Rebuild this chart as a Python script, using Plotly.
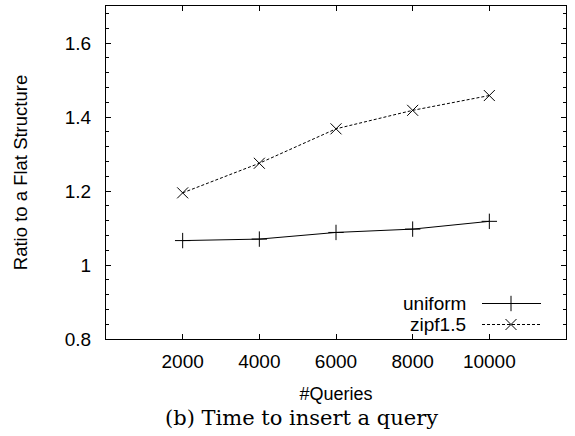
import plotly.graph_objects as go

# ---- data ----
queries = [2000, 4000, 6000, 8000, 10000]
uniform = [1.066, 1.070, 1.088, 1.097, 1.118]
zipf15 = [1.195, 1.275, 1.368, 1.418, 1.458]
series_names = ["uniform", "zipf1.5"]
x_ticks = [2000, 4000, 6000, 8000, 10000]
y_ticks = [0.8, 1.0, 1.2, 1.4, 1.6]
y_tick_text = ["0.8", "1", "1.2", "1.4", "1.6"]

FONT = "Liberation Sans, Arial, sans-serif"
W, H = 575, 436
L, R, T, B = 106, 9, 6, 97

fig = go.Figure()

fig.add_trace(go.Scatter(
    x=queries, y=uniform, mode="lines+markers", name=series_names[0],
    line=dict(color="black", width=1),
    marker=dict(symbol="cross-thin", size=11, line=dict(color="black", width=1)),
    showlegend=False))
fig.add_trace(go.Scatter(
    x=queries, y=zipf15, mode="lines+markers", name=series_names[1],
    line=dict(color="black", width=1, dash="3px,2px"),
    marker=dict(symbol="x-thin", size=11, line=dict(color="black", width=1)),
    showlegend=False))

# legend samples on an overlay axis (0..1 in plot area)
pw = W - L - R
ph = H - T - B
def fx(px):
    return (px - L) / pw
def fy(py):
    return (H - B - py) / ph

leg_rows = [(303.5, "solid", "cross-thin", 11), (324.5, "3px,2px", "x-thin", 11)]
for (py, dash, sym, sz), name in zip(leg_rows, series_names):
    fig.add_trace(go.Scatter(
        x=[fx(482), fx(541)], y=[fy(py), fy(py)], mode="lines",
        line=dict(color="black", width=1, dash=dash),
        xaxis="x2", yaxis="y2", showlegend=False, hoverinfo="skip"))
    fig.add_trace(go.Scatter(
        x=[fx(511)], y=[fy(py)], mode="markers",
        marker=dict(symbol=sym, size=sz, line=dict(color="black", width=1)),
        xaxis="x2", yaxis="y2", showlegend=False, hoverinfo="skip"))
    fig.add_annotation(
        x=fx(468), y=fy(py), xref="x2", yref="y2", text=name,
        showarrow=False, xanchor="right", yanchor="middle",
        font=dict(family=FONT, size=19, color="black"))

fig.update_layout(
    width=W, height=H,
    margin=dict(l=L, r=R, t=T, b=B, pad=0),
    paper_bgcolor="white", plot_bgcolor="white",
    font=dict(family=FONT, size=19, color="black"),
    xaxis=dict(
        range=[0, 12000], tickvals=x_ticks, ticktext=[str(v) for v in x_ticks],
        ticks="inside", ticklen=5, tickcolor="black", tickwidth=1,
        showline=True, linecolor="black", linewidth=1, mirror="ticks",
        showgrid=False, zeroline=False, ticklabelstandoff=5,
        title=dict(text="#Queries", font=dict(size=18), standoff=16),
    ),
    yaxis=dict(
        range=[0.8, 1.7], tickvals=y_ticks, ticktext=y_tick_text,
        ticks="inside", ticklen=5, tickcolor="black", tickwidth=1,
        minor=dict(dtick=0.04, tick0=0.8, ticks="inside", ticklen=3,
                   tickcolor="black", showgrid=False),
        showline=True, linecolor="black", linewidth=1, mirror="ticks",
        showgrid=False, zeroline=False, ticklabelstandoff=10,
        title=dict(text="Ratio to a Flat Structure", font=dict(size=18.5), standoff=32),
    ),
    xaxis2=dict(overlaying="x", range=[0, 1], visible=False, anchor="y2"),
    yaxis2=dict(overlaying="y", range=[0, 1], visible=False, anchor="x2"),
)

fig.add_annotation(
    x=(301 - L) / pw, y=(H - B - 418) / ph, xref="paper", yref="paper",
    text="(b) Time to insert a query",
    showarrow=False, xanchor="center", yanchor="middle",
    font=dict(family="DejaVu Serif, serif", size=21, color="black"))

fig.write_html("out.html")
